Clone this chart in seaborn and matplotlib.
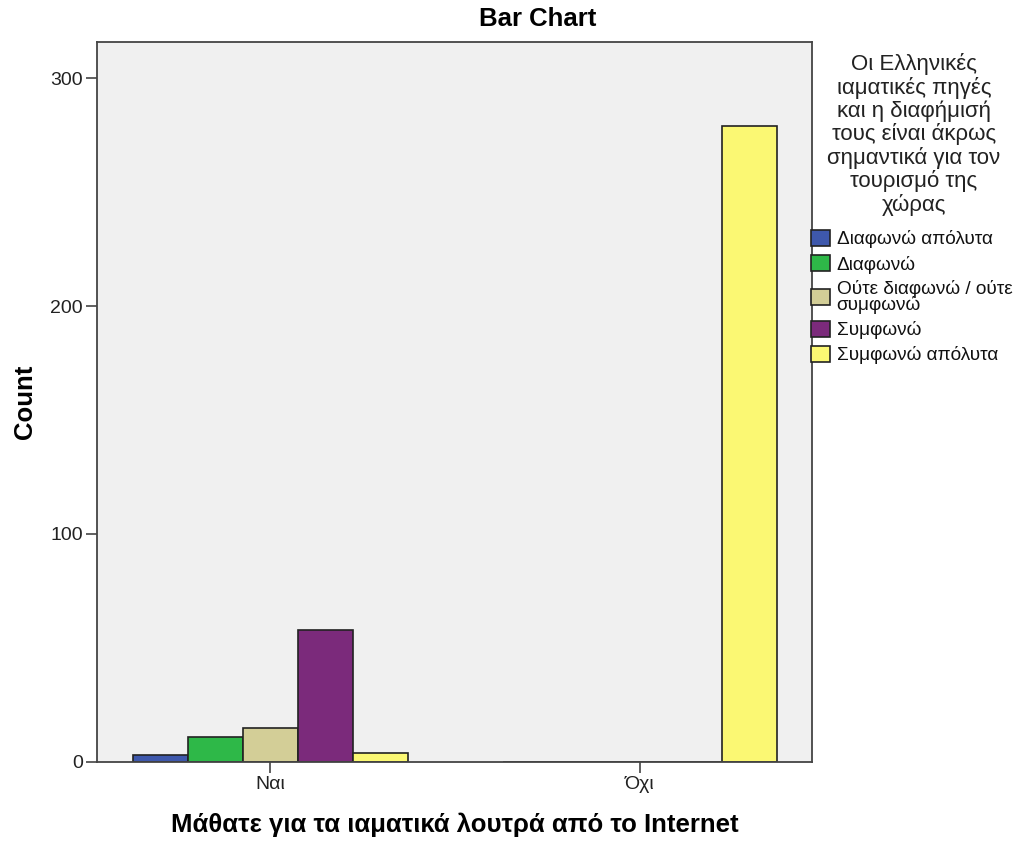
import numpy as np
import pandas as pd
import matplotlib
matplotlib.use("Agg")
import matplotlib.pyplot as plt
import seaborn as sns

# Data
categories = ["Ναι", "Όχι"]
responses = ["Διαφωνώ απόλυτα", "Διαφωνώ", "Ούτε διαφωνώ / ούτε\nσυμφωνώ",
             "Συμφωνώ", "Συμφωνώ απόλυτα"]
counts_nai = [3, 11, 15, 58, 4]
counts_oxi = [0, 0, 0, 0, 279]
colors = ["#3E58AC", "#2EB848", "#D3CE97", "#7B2A7B", "#FBF873"]

df = pd.DataFrame({
    "answer": categories[0:1] * 5 + categories[1:2] * 5,
    "response": responses * 2,
    "count": counts_nai + counts_oxi,
})

sns.set_style("white")
plt.rcParams['font.family'] = ['Liberation Sans', 'DejaVu Sans']
plt.rcParams['text.color'] = 'black'
plt.rcParams['axes.labelcolor'] = 'black'

W, H = 1019, 847
fig = plt.figure(figsize=(W / 100, H / 100), dpi=100)
ax = fig.add_axes([0.0952, 0.1004, 0.7016, 0.8500])
ax.set_facecolor("#F0F0F0")

sns.barplot(data=df, x="answer", y="count", hue="response", order=categories,
            hue_order=responses, palette=colors, width=0.743, gap=0,
            edgecolor="#222222", linewidth=1.2, saturation=1, ax=ax)

ax.set_xlim(-0.468, 1.465)
ax.set_ylim(0, 315.8)
ax.set_yticks([0, 100, 200, 300])
ax.tick_params(axis="both", direction="out", length=8, width=1.2, pad=2,
               color="#444444", labelcolor="#222222", labelsize=14,
               left=True, bottom=True)
for s in ax.spines.values():
    s.set_color("#444444")
    s.set_linewidth(1.3)

# SPSS puts the title centred on the whole chart, not on the plot area
fig.text(538 / W, 1 - 19 / H, "Bar Chart", fontsize=18.5, fontweight="bold",
         ha="center", va="center")
ax.set_xlabel("Μάθατε για τα ιαματικά λουτρά από το Internet",
              fontsize=18.5, fontweight="bold", labelpad=14)
ax.set_ylabel("Count", fontsize=18.5, fontweight="bold", labelpad=10)

leg_title = ("Οι Ελληνικές\nιαματικές πηγές\nκαι η διαφήμισή\nτους είναι άκρως\n"
             "σημαντικά για τον\nτουρισμό της\nχώρας")
fig.text(914 / W, 1 - 53 / H, leg_title, fontsize=16, ha="center", va="top",
         multialignment="center", linespacing=1.09, color="#222222")

leg = ax.legend(loc="upper left", bbox_to_anchor=(811 / W, 1 - 230 / H),
                bbox_transform=fig.transFigure, frameon=False, fontsize=13.7,
                handlelength=1.0, handleheight=0.9, handletextpad=0.35,
                labelspacing=0.35, borderaxespad=0.0, borderpad=0.0)
for t in leg.get_texts():
    t.set_linespacing(0.85)
    t.set_color("#111111")

fig.savefig("out.png", dpi=100)
